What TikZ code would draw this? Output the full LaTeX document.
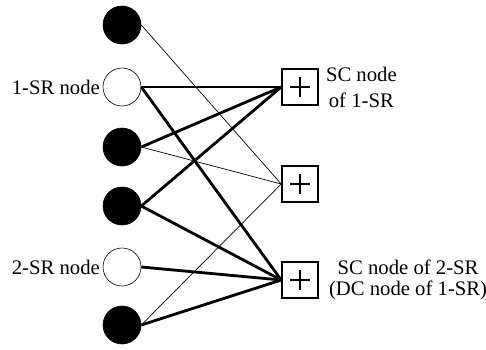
\documentclass[tikz,border=0pt]{standalone}
\usepackage{fontspec}
\setmainfont{Liberation Serif}
\usetikzlibrary{positioning}
\tikzset{
  blackdot/.style={
    circle, fill=black, draw=black, line width=0.6bp,
    minimum size=38bp, inner sep=0pt
  },
  srnode/.style={
    circle, fill=white, draw=black, line width=0.6bp,
    minimum size=38bp, inner sep=0pt
  },
  scbox/.style={
    rectangle, draw=black, line width=1.6bp, fill=white,
    minimum size=36bp, inner sep=0pt,
    path picture={
      \draw[line width=2.6bp]
        ([xshift=-10bp]path picture bounding box.center) --
        ([xshift=10bp]path picture bounding box.center)
        ([yshift=-10bp]path picture bounding box.center) --
        ([yshift=10bp]path picture bounding box.center);
    }
  },
  textlab/.style={font=\fontsize{20.7bp}{26bp}\selectfont, inner sep=0pt, align=center},
  thickedge/.style={line width=2.8bp, draw=black},
  thinedge/.style={line width=0.7bp, draw=black}
}
\begin{document}
\begin{tikzpicture}[x=1bp,y=-1bp]
    \useasboundingbox (0,0) rectangle (486,349);
    % left column
    \node[blackdot] (b1) at (122,25) {};
    \node[srnode] (sr1) at (122,87) {};
    \node[blackdot] (b3) at (122,147) {};
    \node[blackdot] (b4) at (122,206) {};
    \node[srnode] (sr2) at (122,267) {};
    \node[blackdot] (b6) at (122,325) {};
    \node[textlab,anchor=east] (sr1lab) at (100,87) {1-SR node};
    \node[textlab,anchor=east] (sr2lab) at (100,267) {2-SR node};
    % right column
    \node[scbox] (sc1) at (300,87) {};
    \node[scbox] (sc2) at (300,184) {};
    \node[scbox] (sc3) at (300,280) {};
    \node[textlab,anchor=west,right=7bp of sc1] (sc1lab) {SC node\\of 1-SR};
    \node[textlab,anchor=west,right=10bp of sc3,
          font=\fontsize{20.7bp}{21bp}\selectfont] (sc3lab) {SC node of 2-SR\\(DC node of 1-SR)};
    % connectors
    \draw[thinedge] (b1.east) -- (sc2.west);
    \draw[thickedge] (sr1.east) -- (sc1.west);
    \draw[thickedge] (sr1.east) -- (sc3.west);
    \draw[thickedge] (b3.east) -- (sc1.west);
    \draw[thinedge] (b3.east) -- (sc2.west);
    \draw[thickedge] (b4.east) -- (sc1.west);
    \draw[thickedge] (b4.east) -- (sc3.west);
    \draw[thickedge] (sr2.east) -- (sc3.west);
    \draw[thinedge] (b6.east) -- (sc2.west);
    \draw[thickedge] (b6.east) -- (sc3.west);
\end{tikzpicture}
\end{document}
